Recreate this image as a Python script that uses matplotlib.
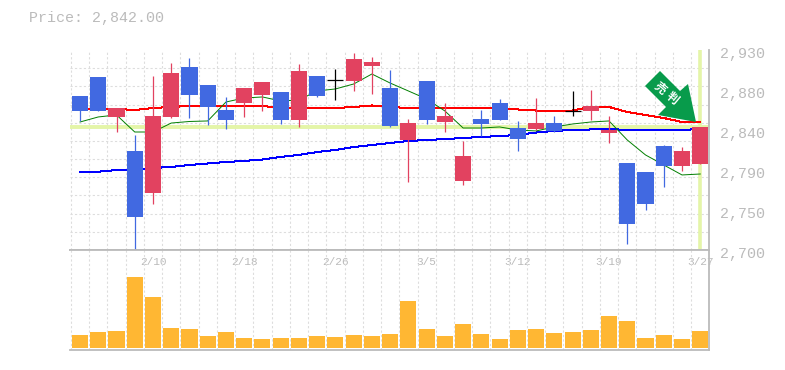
import numpy as np
import matplotlib
matplotlib.use('Agg')
import matplotlib.pyplot as plt
from matplotlib.patches import Polygon
from matplotlib.transforms import Affine2D, ScaledTranslation

# Daily candles
opens = [2877, 2899, 2853, 2814, 2765.5, 2853, 2910.5, 2890, 2861, 2869, 2878.3, 2882,
         2849.5, 2900, 2895.5, 2894.4, 2911.6, 2886.3, 2826.5, 2894.4, 2847.2, 2779.4,
         2850.7, 2869, 2840.3, 2839.2, 2846, 2859.9, 2859.9, 2834.5, 2800, 2789.7,
         2819.6, 2796.6, 2799]
closes = [2860, 2860, 2863.3, 2738, 2854, 2903.5, 2878.3, 2864.5, 2849.5, 2886.3, 2893.2,
          2849.5, 2905.9, 2877, 2895.5, 2919.7, 2916.2, 2842.6, 2846, 2849.5, 2854.1,
          2808.1, 2844.9, 2849.5, 2827.6, 2846, 2836.9, 2859.9, 2865.6, 2838, 2730,
          2752.9, 2796.6, 2813.9, 2842]
highs = [2877, 2899, 2863.3, 2832.3, 2900.1, 2915, 2920.8, 2890, 2876, 2886.3, 2893.2, 2882,
         2913.9, 2900, 2908.2, 2926.6, 2922, 2907, 2850.7, 2894.4, 2869, 2825.4, 2861,
         2873.7, 2848.4, 2874.8, 2854.1, 2882.9, 2884, 2854.1, 2800, 2789.7, 2820.8,
         2818.4, 2842]
lows = [2848.3, 2860, 2835.7, 2700, 2752.9, 2851.8, 2851.8, 2843.8, 2839.2, 2853, 2859.9,
        2844.9, 2841.5, 2876, 2872.5, 2882.9, 2879.4, 2841.5, 2778.2, 2844.9, 2835.7,
        2774.8, 2831.1, 2849.5, 2813.9, 2838, 2835.7, 2854.1, 2849.5, 2823, 2706.9, 2746,
        2772.4, 2790.9, 2799]

ma_short = [2847.2, 2853, 2855.3, 2835.7, 2835.7, 2846, 2847.8, 2848.4, 2870.2, 2874.8,
            2876, 2871.4, 2872.5, 2882.9, 2885.2, 2890.9, 2902.4, 2892, 2882.9, 2873.7,
            2859.9, 2840.3, 2840.3, 2841.5, 2838, 2836.9, 2841.5, 2844.9, 2847.2, 2848.4,
            2826.5, 2809.3, 2797.8, 2786.3, 2787.4]
ma_mid = [2862.2, 2862.2, 2862.2, 2861, 2863.3, 2864.5, 2865.6, 2865.6, 2865.6, 2865.6,
          2865.6, 2863.3, 2863.3, 2863.3, 2863.3, 2864.5, 2866.2, 2864.5, 2863.3, 2863.3,
          2863.3, 2863.3, 2863.3, 2863.3, 2861.6, 2860.4, 2859.9, 2860.4, 2864.5, 2864.5,
          2858.7, 2855.3, 2851.8, 2847.2, 2847.2]
ma_long = [2789.7, 2790, 2792, 2792.6, 2794.3, 2795.5, 2797.8, 2799.5, 2801.2, 2802.4,
           2804.1, 2807, 2809.3, 2812.7, 2815, 2818.4, 2820.8, 2823, 2825.4, 2826.5,
           2827.6, 2828.8, 2830, 2831.1, 2832.3, 2835.1, 2836.9, 2838, 2838.6, 2839.2,
           2838, 2838, 2838, 2838, 2839.2]
volumes = [13, 16, 17, 71, 51, 20, 19, 12, 16, 10, 9, 10, 10, 12, 11, 13, 12, 14, 47, 19,
           12, 24, 14, 9, 18, 19, 15, 16, 18, 32, 27, 10, 13, 9, 17]

last_price = 2842
price_ticks = [2930, 2884, 2838, 2792, 2746, 2700]
price_labels = ['2,930', '2,880', '2,840', '2,790', '2,750', '2,700']
date_ticks = [4, 9, 14, 19, 24, 29, 34]
date_labels = ['2/10', '2/18', '2/26', '3/5', '3/12', '3/19', '3/27']

RED = '#e24260'
BLUE = '#4169e1'
ORANGE = '#ffb733'
LIME = '#e4f5a8'
GRID = '#dddddd'
EDGE = '#bbbbbb'
MONO = 'Liberation Mono'

W, H = 785, 370
fig = plt.figure(figsize=(W / 100, H / 100), dpi=100)
ax = fig.add_axes([70 / W, 1 - 250 / H, 639 / W, 200 / H])
ax_vol = fig.add_axes([70 / W, 1 - 350 / H, 639 / W, 100 / H], sharex=ax)

x = np.arange(len(opens))
opens = np.array(opens)
closes = np.array(closes)
colors = [RED if c > o else BLUE if c < o else 'black' for o, c in zip(opens, closes)]

# grid and highlight of the last price and last day
for a in (ax, ax_vol):
    a.set_axisbelow(True)
    a.set_xticks(np.arange(-0.5, 34), minor=True)
    a.grid(True, which='minor', axis='x', color=GRID, lw=0.8, ls=(0, (2, 2)))
    a.tick_params(which='both', length=0)
ax.set_yticks(np.linspace(2700, 2930, 12), minor=True)
ax.grid(True, which='minor', axis='y', color=GRID, lw=0.8, ls=(0, (2, 2)))
ax.axhline(last_price, color=LIME, lw=2.8, zorder=1.5)
ax.axvline(34, ymin=0.01, ymax=0.995, color=LIME, lw=2.6, zorder=1.5)

# moving averages sit under the candles
ax.plot(x, ma_long, color='#0000ff', lw=0.72, antialiased=False, zorder=2)
ax.plot(x, ma_mid, color='#ff0000', lw=0.72, antialiased=False, zorder=2)
ax.plot(x, ma_short, color='#007f00', lw=0.7, zorder=2)

# candles
ax.vlines(x, lows, highs, colors=colors, lw=0.9, zorder=3)
ax.bar(x, np.abs(closes - opens), bottom=np.minimum(opens, closes), width=0.88,
       color=colors, lw=0, antialiased=False, zorder=4)
flat = opens == closes
ax.hlines(opens[flat], x[flat] - 0.44, x[flat] + 0.44, colors='black', lw=0.9, zorder=4)

ax.set_xlim(-0.55, 34.48)
ax.set_ylim(2700, 2930)
ax.yaxis.tick_right()
ax.set_yticks(price_ticks)
ax.set_yticklabels(price_labels, family=MONO, fontsize=10.8, color=EDGE)
ax.tick_params(axis='y', pad=8)
# the labels sit a little under their true position
shift = ScaledTranslation(0, -1.6 / 72, fig.dpi_scale_trans)
for label in ax.get_yticklabels():
    label.set_transform(label.get_transform() + shift)
ax.tick_params(axis='x', labelbottom=False)

# volume panel
ax_vol.bar(x, volumes, width=0.88, color=ORANGE, lw=0, antialiased=False, zorder=3)
ax_vol.set_ylim(-2, 98)
ax_vol.set_yticks([])
ax_vol.set_xticks(date_ticks)
ax_vol.set_xticklabels(date_labels, family=MONO, fontsize=8, color=EDGE)
ax_vol.tick_params(axis='x', top=False, bottom=False, labeltop=True, labelbottom=False,
                   pad=-12.5)

for spine in ax.spines.values():
    spine.set_color(EDGE)
    spine.set_linewidth(1.3)
ax.spines['top'].set_visible(False)
ax.spines['left'].set_visible(False)
for spine in ax_vol.spines.values():
    spine.set_color(EDGE)
    spine.set_linewidth(1.3)
ax_vol.spines['left'].set_visible(False)

# title
fig.text(29 / W, 1 - 18 / H, 'Price: 2,842.00', family=MONO, fontsize=10.8, color=EDGE,
         va='center')

# signal badge, placed in picture pixels
px = Affine2D().scale(1, -1).translate(0, H)
fig.add_artist(Polygon([(660, 71), (645, 86), (666, 107), (658, 115), (696, 122),
                        (688, 84), (680, 91)], closed=True, facecolor='#089b4b',
                       edgecolor='none', transform=px, zorder=5))
for char, cx, cy in [('売', 660.5, 88), ('判', 672.5, 98)]:
    fig.text(cx / W, 1 - cy / H, char, family=['Noto Sans CJK JP', 'DejaVu Sans'],
             fontsize=8.5, fontweight='bold', color='white', rotation=-40, ha='center',
             va='center', rotation_mode='anchor', zorder=6)

fig.savefig('out.png', dpi=100)
